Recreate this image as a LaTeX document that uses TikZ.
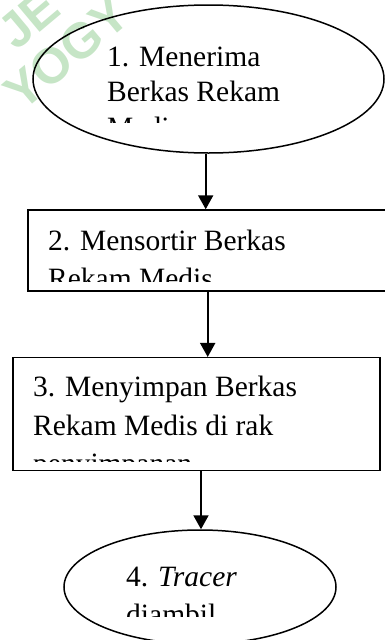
\documentclass[tikz,border=0pt]{standalone}
\usepackage{fontspec}
\setmainfont{Liberation Serif}
\newfontfamily\wmfont{Liberation Sans}
\usetikzlibrary{arrows.meta,shapes.geometric}
\definecolor{wmgreen}{RGB}{198,229,198}
\tikzset{
  shapeline/.style={draw=black, line width=1.5pt, inner sep=0pt},
  ovalbox/.style={shapeline, ellipse},
  rectbox/.style={shapeline, rectangle},
  flowarrow/.style={line width=2pt, -{Triangle[width=15pt,length=14pt]}},
  txt/.style={anchor=base west, inner sep=0pt, font=\fontsize{29.5}{36}\selectfont},
  wm/.style={text=wmgreen, font=\wmfont\bfseries\fontsize{50}{50}\selectfont, rotate=40, inner sep=0pt, anchor=base west}
}
\begin{document}
\begin{tikzpicture}[x=1pt,y=-1pt]
\useasboundingbox (0,0) rectangle (385,640);
% watermark
\node[wm] (wm1) at (16,52) {JE};
\node[wm] (wm2) at (22,113) {YOGY};
% shapes
\node[ovalbox, minimum width=351pt, minimum height=148pt] (e1) at (208.5,79) {};
\node[rectbox, minimum width=372pt, minimum height=81pt] (b2) at (214,250.5) {};
\node[rectbox, minimum width=367pt, minimum height=113pt] (b3) at (196.3,414.2) {};
\node[ovalbox, minimum width=272pt, minimum height=114pt] (e4) at (200,587) {};
% texts (clipped like the original text frames)
\begin{scope}
  \clip (0,30) rectangle (385,122);
  \node[txt] (t1a) at (107,66.7) {1. Menerima};
  \node[txt] (t1b) at (107,101.7) {Berkas Rekam};
  \node[txt] (t1c) at (107,137.5) {Medis};
\end{scope}
\begin{scope}
  \clip (30,214) rectangle (385,281);
  \node[txt] (t2a) at (48,250) {2. Mensortir Berkas};
  \node[txt] (t2b) at (48,288.5) {Rekam Medis};
\end{scope}
\begin{scope}
  \clip (15,361) rectangle (378,461);
  \node[txt] (t3a) at (33,396.7) {3. Menyimpan Berkas};
  \node[txt] (t3b) at (33,435) {Rekam Medis di rak};
  \node[txt] (t3c) at (33,473.5) {penyimpanan};
\end{scope}
\begin{scope}
  \clip (90,545) rectangle (320,616.7);
  \node[txt] (t4a) at (126,586) {4. \textit{Tracer}};
  \node[txt] (t4b) at (126,624) {diambil};
\end{scope}
% connectors
\coordinate (c1) at (205.7,0);
\coordinate (c2) at (207.7,0);
\coordinate (c3) at (201,0);
\draw[flowarrow] (c1 |- e1.south) -- (c1 |- b2.north);
\draw[flowarrow] (c2 |- b2.south) -- (c2 |- b3.north);
\draw[flowarrow] (c3 |- b3.south) -- (c3 |- e4.north);
\end{tikzpicture}
\end{document}
